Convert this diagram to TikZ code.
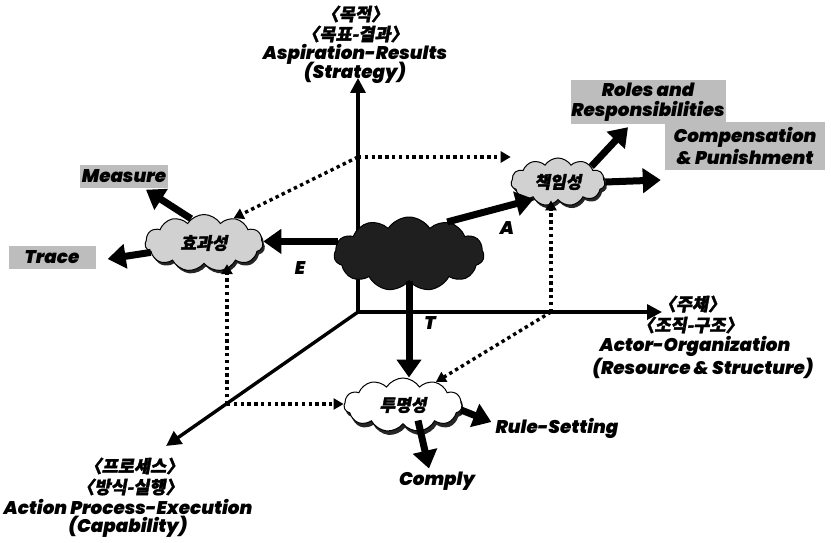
\documentclass[tikz,border=0pt]{standalone}
\usepackage{fontspec}
\usetikzlibrary{arrows.meta,shapes.symbols,shadows,calc}
\newfontfamily\en{Poppins Black Italic}
\newfontfamily\kr{Noto Sans CJK KR}[FakeSlant=0.18, BoldFeatures={FakeBold=2}]
\begin{document}
\begin{tikzpicture}[x=1pt,y=-1pt,
  entxt/.style={font=\en\fontsize{18.3}{20}\selectfont, inner sep=0pt},
  krtxt/.style={font=\kr\bfseries\fontsize{17.5}{19}\selectfont, inner sep=0pt},
  cltxt/.style={font=\kr\bfseries\fontsize{17}{19}\selectfont},
  graybox/.style={entxt, fill=black!26, align=center},
  cloudbase/.style={cloud, cloud puffs=11, cloud puff arc=115, aspect=2.2, draw=black, line width=1pt, inner sep=0pt},
  lightcloud/.style={cloudbase, cltxt, fill=black!18, drop shadow={shadow xshift=2pt, shadow yshift=-3pt, fill=black!85, opacity=1}},
  whitecloud/.style={cloudbase, cltxt, fill=white, drop shadow={shadow xshift=2pt, shadow yshift=-4pt, fill=black!85, opacity=1}},
  darkcloud/.style={cloudbase, fill=black!88},
  axisline/.style={line width=3.4pt, -{Triangle[length=15pt,width=15pt]}},
  fat/.style={line width=7pt, -{Triangle[length=18pt,width=24pt]}},
  dotarrow/.style={line width=3.4pt, dash pattern=on 3.4pt off 3.4pt, -{Triangle[length=10pt,width=11pt]}}
]
\useasboundingbox (0,0) rectangle (831,543);

% axes
\coordinate (o) at (358,312);
\coordinate (vtop) at (358,78);
\coordinate (htop) at (662,312);
\coordinate (dtop) at (166,446);
\draw[axisline] (o) -- (vtop);
\draw[axisline] (o) -- (htop);
\draw[axisline] (o) -- (dtop);

% axis labels
\node[krtxt] (t1) at (355,14) {〈목적〉};
\node[krtxt] (t2) at (355,34) {〈목표-결과〉};
\node[entxt] (t3) at (355,54) {Aspiration-Results};
\node[entxt] (t4) at (355,73) {(Strategy)};

\node[krtxt] (r1) at (692,304) {〈주체〉};
\node[krtxt] (r2) at (690,325) {〈조직-구조〉};
\node[entxt] (r3) at (695,346) {Actor-Organization};
\node[entxt] (r4) at (703,368) {(Resource \& Structure)};

\node[krtxt] (b1) at (134,466) {〈프로세스〉};
\node[krtxt] (b2) at (130,487) {〈방식-실행〉};
\node[entxt] (b3) at (128,507) {Action Process-Execution};
\node[entxt] (b4) at (128,527) {(Capability)};

% clouds
\node[darkcloud, minimum width=150pt, minimum height=74pt] (ccl) at (409,254) {};
\node[lightcloud, minimum width=118pt, minimum height=57pt] (ecl) at (204,243) {효과성};
\node[lightcloud, minimum width=94pt, minimum height=48pt] (acl) at (558,182) {책임성};
\node[whitecloud, minimum width=118pt, minimum height=54pt] (tcl) at (403,405) {투명성};

% boxes
\node[graybox, minimum width=88pt, minimum height=23pt] (measure) at (124,176) {Measure};
\node[graybox, minimum width=87pt, minimum height=23pt] (trace) at (52,257) {Trace};
\node[graybox, minimum width=155pt, minimum height=44pt] (roles) at (648,102) {Roles and\\Responsibilities};
\node[graybox, minimum width=160pt, minimum height=48pt] (comp) at (745,146) {Compensation\\\& Punishment};
\node[entxt] (rule) at (557,428) {Rule-Setting};
\node[entxt] (comply) at (437,481) {Comply};

% dotted construction arrows
\coordinate (pv) at (358,157);
\coordinate (ph) at (551,312);
\coordinate (pd) at (227,404);
\draw[dotarrow] (pv) -- (pv -| acl.west);
\draw[dotarrow] (pv) -- (ecl.40);
\draw[dotarrow] (ph) -- (ph |- acl.south);
\draw[dotarrow] (ph) -- (tcl.35);
\draw[dotarrow] (pd) -- (pd |- ecl.south);
\draw[dotarrow] (pd) -- (pd -| tcl.west);

% main arrows
\draw[fat] (ccl.170) -- (ccl.170 -| ecl.east);
\draw[fat] (ccl.40) -- (acl.215);
\draw[fat] (ccl.south) -- (ccl.south |- tcl.north);
\node[entxt] (lE) at (300,268) {E};
\node[entxt] (lA) at (507,228) {A};
\node[entxt] (lT) at (430,323) {T};

% outcome arrows
\draw[fat] (ecl.118) -- ($(measure.south)+(22,2)$);
\draw[fat] (ecl.190) -- ($(trace.east)+(12,2)$);
\draw[fat] (acl.25) -- ($(roles.south)+(-20,3)$);
\draw[fat] (acl.east) -- ($(acl.east -| comp.west)+(-4,-2)$);
\draw[fat] (tcl.-5) -- ($(rule.west)+(-4,-6)$);
\draw[fat] ($(tcl.south)+(15,-4)$) -- ($(comply.north)+(-8,-3)$);
\end{tikzpicture}
\end{document}
